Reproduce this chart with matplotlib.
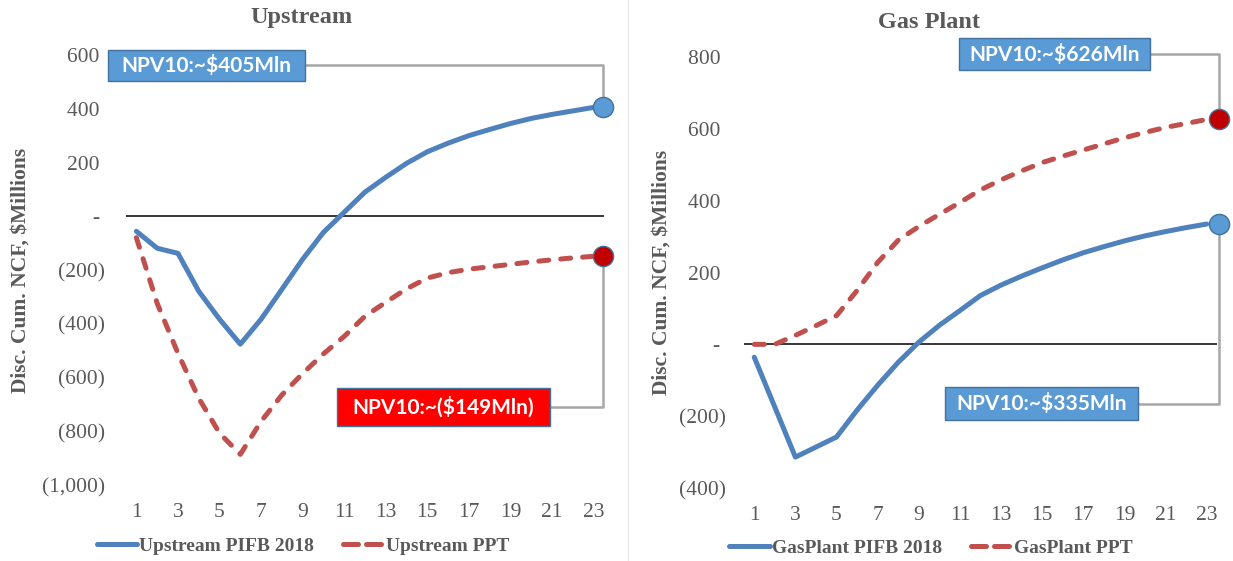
import matplotlib
matplotlib.use("Agg")
import matplotlib.pyplot as plt
from matplotlib.patches import Rectangle
from matplotlib.ticker import FuncFormatter

# discounted cumulative net cash flow, $ millions, by year
years = list(range(1, 24))
upstream_pifb = [-56, -119, -138, -279, -383, -476, -383, -272, -160, -60, 15, 90,
                 145, 197, 240, 272, 300, 323, 345, 364, 379, 392, 405]
upstream_ppt = [-80, -324, -510, -677, -807, -886, -763, -665, -585, -512, -447, -372,
                -320, -270, -230, -210, -197, -188, -179, -170, -162, -155, -149]
gas_pifb = [-36, -175, -314, -286, -258, -183, -114, -50, 6, 53, 94, 136,
            165, 190, 213, 235, 255, 272, 288, 302, 314, 325, 335]
gas_ppt = [0, 0, 25, 52, 80, 150, 228, 290, 328, 362, 395, 430,
           458, 483, 506, 524, 541, 558, 575, 590, 604, 615, 626]

npv_labels = {
    "up_pifb": "NPV10:~$405Mln",
    "up_ppt": "NPV10:~($149Mln)",
    "gas_ppt": "NPV10:~$626Mln",
    "gas_pifb": "NPV10:~$335Mln",
}

BLUE = "#4f81bd"
RED = "#c0504d"
GREY = "#595959"
SERIF = "Liberation Serif"

plt.rcParams["font.family"] = SERIF

fig = plt.figure(figsize=(12.33, 5.61), dpi=100)
ax1 = fig.add_axes([126 / 1233, 1 - 485 / 561, 478 / 1233, 430 / 561])
ax2 = fig.add_axes([744 / 1233, 1 - 488 / 561, 473 / 1233, 431 / 561])


def acct(v, pos):
    if v == 0:
        return "- "
    if v < 0:
        return "({:,.0f})".format(-v)
    return "{:,.0f} ".format(v)


def style_axis(ax, ylo, yhi, ypad):
    ax.set_xlim(0.5, 23.5)
    ax.set_ylim(ylo, yhi)
    ax.set_xticks(range(1, 24, 2))
    ax.set_yticks(range(ylo, yhi + 1, 200))
    ax.yaxis.set_major_formatter(FuncFormatter(acct))
    for s in ax.spines.values():
        s.set_visible(False)
    ax.tick_params(axis="both", length=0, labelsize=15.5, labelcolor=GREY)
    ax.tick_params(axis="y", pad=ypad)
    ax.tick_params(axis="x", pad=13)
    ax.axhline(0, color="black", lw=1.1, zorder=1)
    ax.set_ylabel("Disc. Cum. NCF, $Millions", fontsize=15.5, fontweight="bold",
                  color=GREY)


def npv_box(ax, x0, x1, yc, h, text, face, end_val, dot_x, dot_face):
    # connector from the label box to the end-of-series dot
    ax.plot([x1, dot_x, dot_x], [yc, yc, end_val], color="#a6a6a6", lw=1.8,
            clip_on=False, zorder=2)
    ax.add_patch(Rectangle((x0, yc - h / 2), x1 - x0, h, facecolor=face,
                           edgecolor="#41719c", lw=1, clip_on=False, zorder=5))
    ax.text((x0 + x1) / 2, yc, text, ha="center", va="center", color="white",
            fontsize=15, fontweight="bold", family=["Lato", "DejaVu Sans"],
            zorder=6, clip_on=False)
    ax.plot(dot_x, end_val, "o", ms=14.5, mfc=dot_face, mec="#41719c", mew=1,
            clip_on=False, zorder=6)


dash = (0, (2.0, 2.4))

# Upstream
style_axis(ax1, -1000, 600, 15)
ax1.yaxis.set_label_coords(-95 / 478, 0.5)
l1, = ax1.plot(years, upstream_pifb, color=BLUE, lw=3.6, solid_capstyle="round",
               label="Upstream PIFB 2018", zorder=3)
l2, = ax1.plot(years, upstream_ppt, color=RED, lw=3.6, linestyle=dash,
               dash_capstyle="round", label="Upstream PPT", zorder=3)
npv_box(ax1, -0.37, 9.11, 561, 115, npv_labels["up_pifb"], "#5b9bd5",
        upstream_pifb[-1], 23.45, "#5b9bd5")
npv_box(ax1, 10.65, 20.9, -709, 141, npv_labels["up_ppt"], "#ff0000",
        upstream_ppt[-1], 23.45, "#c00000")

# Gas plant
style_axis(ax2, -400, 800, 13)
ax2.yaxis.set_label_coords(-72 / 473, 0.5)
l3, = ax2.plot(years, gas_pifb, color=BLUE, lw=3.6, solid_capstyle="round",
               label="GasPlant PIFB 2018", zorder=3)
l4, = ax2.plot(years, gas_ppt, color=RED, lw=3.6, linestyle=dash,
               dash_capstyle="round", label="GasPlant PPT", zorder=3)
npv_box(ax2, 10.95, 20.24, 808, 89, npv_labels["gas_ppt"], "#5b9bd5",
        gas_ppt[-1], 23.6, "#c00000")
npv_box(ax2, 10.27, 19.66, -165, 92, npv_labels["gas_pifb"], "#5b9bd5",
        gas_pifb[-1], 23.6, "#5b9bd5")

fig.text(301 / 1233, 1 - 18 / 561, "Upstream", ha="center", va="center",
         fontsize=17.5, fontweight="bold", color=GREY)
fig.text(929 / 1233, 1 - 22 / 561, "Gas Plant", ha="center", va="center",
         fontsize=17.5, fontweight="bold", color=GREY)

leg_kw = dict(loc="center", ncol=2, frameon=False, handlelength=2.1,
              handletextpad=0.1, columnspacing=1.5, borderaxespad=0,
              prop={"family": SERIF, "weight": "bold", "size": 14})
lg1 = fig.legend(handles=[l1, l2], bbox_to_anchor=(303 / 1233, 1 - 546 / 561), **leg_kw)
lg2 = fig.legend(handles=[l3, l4], bbox_to_anchor=(931 / 1233, 1 - 548 / 561), **leg_kw)
for lg in (lg1, lg2):
    for t in lg.get_texts():
        t.set_color(GREY)
    # legend sample shows two longer dashes
    lg.get_lines()[1].set_linestyle((0, (3.0, 1.6)))

# faint border of the right-hand chart
fig.add_artist(plt.Line2D([628 / 1233, 628 / 1233], [0, 1], color="#e8e8e8", lw=1,
                          transform=fig.transFigure))

fig.savefig("out.png", dpi=100)
